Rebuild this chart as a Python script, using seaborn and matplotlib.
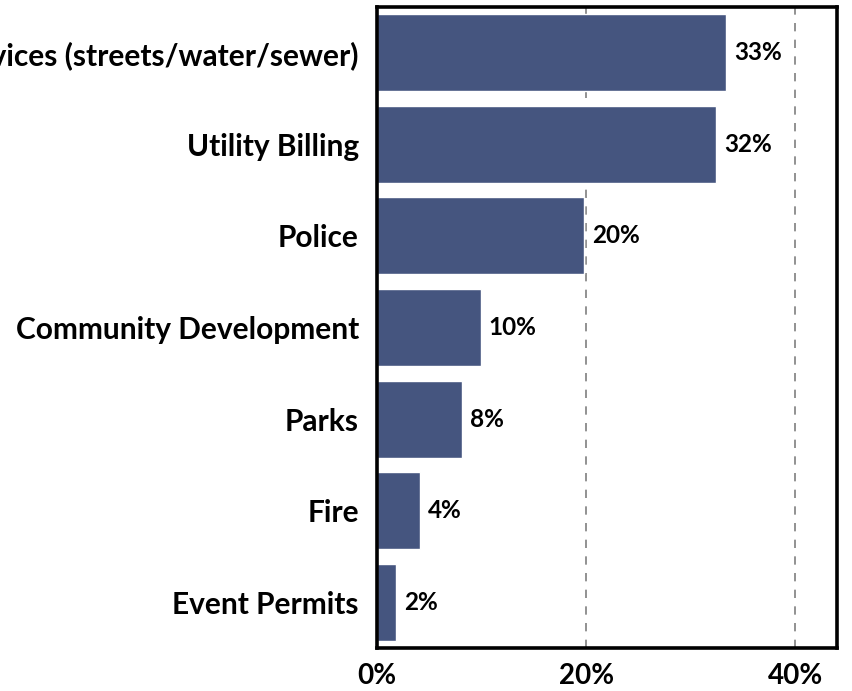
import matplotlib
matplotlib.use("Agg")
import matplotlib.pyplot as plt
import seaborn as sns
import pandas as pd
from matplotlib.ticker import FuncFormatter

# ---- Data ----
departments = [
    "Public Services (streets/water/sewer)",
    "Utility Billing",
    "Police",
    "Community Development",
    "Parks",
    "Fire",
    "Event Permits",
]
shares = [33.4, 32.4, 19.8, 9.9, 8.1, 4.1, 1.8]
bar_labels = ["33%", "32%", "20%", "10%", "8%", "4%", "2%"]

df = pd.DataFrame({"department": departments, "share": shares})

sns.set_style("white")
plt.rcParams["font.family"] = ["Lato", "DejaVu Sans"]

fig = plt.figure(figsize=(8.52, 6.91), dpi=100)
ax = fig.add_axes([0.4425, 0.0622, 0.5399, 0.9277])

sns.barplot(data=df, x="share", y="department", color="#45557f",
            width=0.84, saturation=1, ax=ax, zorder=2)

# bar value labels
for i, (v, lab) in enumerate(zip(shares, bar_labels)):
    ax.text(v + 0.8, i, lab, va="center", ha="left",
            fontsize=17.5, fontweight="bold", color="black")

ax.set_xlim(0, 44)
ax.set_xticks([0, 20, 40])
ax.xaxis.set_major_formatter(FuncFormatter(lambda x, p: f"{x:.0f}%"))
ax.grid(axis="x", linestyle=(0, (5, 5)), color="#7f7f7f", linewidth=1.2, zorder=0)
ax.set_axisbelow(True)
ax.set_xlabel("")
ax.set_ylabel("")

ax.tick_params(axis="both", length=0)
ax.tick_params(axis="y", pad=13, labelsize=21.5)
ax.tick_params(axis="x", pad=11, labelsize=20)
for lbl in ax.get_xticklabels() + ax.get_yticklabels():
    lbl.set_fontweight("bold")
    lbl.set_color("black")

for sp in ax.spines.values():
    sp.set_visible(True)
    sp.set_color("black")
    sp.set_linewidth(2.6)

fig.savefig("out.png", dpi=100)
